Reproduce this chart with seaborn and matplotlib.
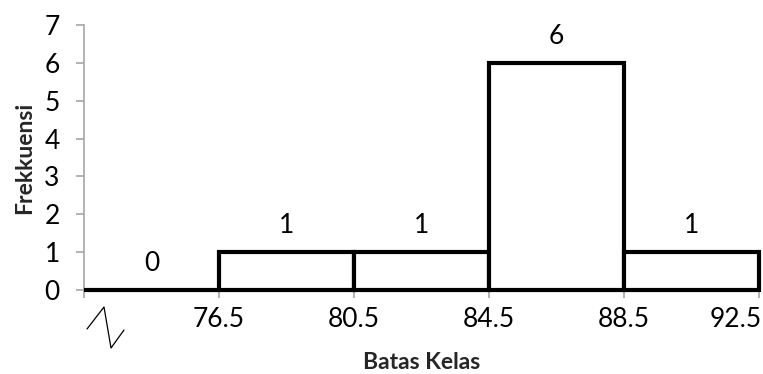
import matplotlib
matplotlib.use("Agg")
import matplotlib.pyplot as plt
from matplotlib.lines import Line2D
from matplotlib.transforms import ScaledTranslation
import seaborn as sns
import numpy as np

# Class boundaries and frequencies
class_edges = [72.5, 76.5, 80.5, 84.5, 88.5, 92.5]
frequencies = [0, 1, 1, 6, 1]
edge_labels = ["", "76.5", "80.5", "84.5", "88.5", "92.5"]

sns.set_theme(style="white")
plt.rcParams["font.family"] = ["Lato", "DejaVu Sans"]

fig = plt.figure(figsize=(7.63, 3.74), dpi=100)
ax = fig.add_axes([84 / 763, 1 - 290 / 374, (759 - 84) / 763, (290 - 25) / 374])

midpoints = [(a + b) / 2 for a, b in zip(class_edges[:-1], class_edges[1:])]
sns.histplot(x=midpoints, weights=frequencies, bins=class_edges, ax=ax,
             color="white", edgecolor="black", linewidth=3.0, alpha=1.0,
             zorder=3, clip_on=False)

num_size = 19
for m, f in zip(midpoints, frequencies):
    ax.text(m, f + 0.7, str(f), ha="center", va="center", fontsize=num_size,
            color="black")

ax.set_xlim(class_edges[0], class_edges[-1])
ax.set_ylim(0, 7)
ax.set_xticks(class_edges)
ax.set_xticklabels(edge_labels)
ax.set_yticks(range(0, 8))

gray = "#a6a6a6"
for side in ["top", "right"]:
    ax.spines[side].set_visible(False)
for side in ["left", "bottom"]:
    ax.spines[side].set_color(gray)
    ax.spines[side].set_linewidth(1.2)

ax.tick_params(axis="both", which="major", direction="out", length=5.5,
               width=1.2, color=gray, labelsize=num_size, labelcolor="black",
               left=True, bottom=True)
ax.tick_params(axis="x", pad=7)
ax.tick_params(axis="y", pad=12)

# Keep the last boundary label inside the figure
last = ax.get_xticklabels()[-1]
last.set_horizontalalignment("right")
last.set_transform(last.get_transform() + ScaledTranslation(3 / 100, 0, fig.dpi_scale_trans))

ax.set_xlabel("Batas Kelas", fontsize=16.5, fontweight="bold")
ax.set_ylabel("Frekkuensi", fontsize=16.5, fontweight="bold")
ax.xaxis.set_label_coords(0.5, -0.235)
ax.yaxis.set_label_coords(-0.072, 0.5)
ax.grid(False)

# Axis break zigzag under the first boundary
zx = np.array([87, 104, 111, 124]) / 763
zy = 1 - np.array([329, 307, 348, 330]) / 374
fig.add_artist(Line2D(zx, zy, color="black", linewidth=0.9,
                      transform=fig.transFigure))

fig.savefig("out.png", dpi=100, facecolor="white")
